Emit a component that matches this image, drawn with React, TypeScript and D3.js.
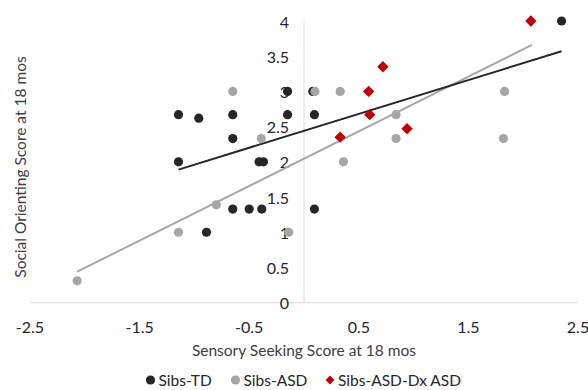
import React, { useRef, useEffect } from "react";
import * as d3 from "d3";

// Sensory seeking (x) vs social orienting (y)
const sibsTD: [number, number][] = [
  [-1.145, 2.0], [-1.145, 2.67], [-0.96, 2.62], [-0.65, 2.67], [-0.65, 2.33],
  [-0.41, 2.0], [-0.37, 2.0], [-0.15, 3.0], [-0.15, 2.67], [0.08, 3.0],
  [0.095, 2.67], [2.35, 4.0], [-0.65, 1.33], [-0.5, 1.33], [-0.385, 1.33],
  [-0.89, 1.0], [0.095, 1.33],
];
const sibsASD: [number, number][] = [
  [-0.65, 3.0], [-0.39, 2.33], [0.1, 3.0], [0.33, 3.0], [1.83, 3.0],
  [0.84, 2.67], [0.84, 2.33], [1.82, 2.33], [0.36, 2.0], [-0.8, 1.39],
  [-1.145, 1.0], [-0.14, 1.0], [-2.07, 0.31],
];
const sibsDx: [number, number][] = [
  [2.07, 4.0], [0.72, 3.35], [0.59, 3.0], [0.6, 2.67], [0.94, 2.47], [0.33, 2.35],
];

// linear trendline end points
const trendTD: [number, number][] = [[-1.145, 1.89], [2.35, 3.57]];
const trendASD: [number, number][] = [[-2.07, 0.44], [2.08, 3.66]];

const xTicks = [-2.5, -1.5, -0.5, 0.5, 1.5, 2.5];
const yTicks = [0, 0.5, 1, 1.5, 2, 2.5, 3, 3.5, 4];

const legendItems = [
  { label: "Sibs-TD", color: "#262626", shape: "circle" },
  { label: "Sibs-ASD", color: "#a6a6a6", shape: "circle" },
  { label: "Sibs-ASD-Dx ASD", color: "#c00000", shape: "diamond" },
];

export default function App() {
  const svgRef = useRef<SVGSVGElement>(null);

  useEffect(() => {
    const width = 588;
    const height = 390;
    const font = "Lato, 'Open Sans', sans-serif";

    const svg = d3.select(svgRef.current).attr("width", width).attr("height", height);
    svg.selectAll("*").remove();

    svg.append("rect").attr("width", width).attr("height", height).attr("fill", "#fff");

    const x = d3.scaleLinear().domain([-2.5, 2.5]).range([30, 578]);
    const y = d3.scaleLinear().domain([0, 4]).range([302.7, 21]);

    // axis lines through origin
    svg.append("line")
      .attr("x1", x(-2.5)).attr("x2", x(2.5))
      .attr("y1", y(0)).attr("y2", y(0))
      .attr("stroke", "#d9d9d9").attr("stroke-width", 1);
    svg.append("line")
      .attr("x1", x(0)).attr("x2", x(0))
      .attr("y1", y(0)).attr("y2", y(4))
      .attr("stroke", "#d9d9d9").attr("stroke-width", 1);

    // tick labels
    svg.append("g")
      .selectAll("text")
      .data(xTicks)
      .enter()
      .append("text")
      .attr("x", (d) => x(d))
      .attr("y", 326)
      .attr("text-anchor", "middle")
      .attr("dominant-baseline", "central")
      .attr("font-family", font)
      .attr("font-size", 16)
      .attr("fill", "#262626")
      .text((d) => String(d));

    svg.append("g")
      .selectAll("text")
      .data(yTicks)
      .enter()
      .append("text")
      .attr("x", x(0) - 15)
      .attr("y", (d) => y(d))
      .attr("text-anchor", "end")
      .attr("dominant-baseline", "central")
      .attr("font-family", font)
      .attr("font-size", 16)
      .attr("fill", "#262626")
      .text((d) => String(d));

    // axis titles
    svg.append("text")
      .attr("x", 304)
      .attr("y", 350)
      .attr("text-anchor", "middle")
      .attr("dominant-baseline", "central")
      .attr("font-family", font)
      .attr("font-size", 15.5)
      .attr("fill", "#404040")
      .text("Sensory Seeking Score at 18 mos");

    svg.append("text")
      .attr("transform", "translate(20,167) rotate(-90)")
      .attr("text-anchor", "middle")
      .attr("dominant-baseline", "central")
      .attr("font-family", font)
      .attr("font-size", 15.5)
      .attr("fill", "#404040")
      .text("Social Orienting Score at 18 mos");

    // trendlines
    const line = d3.line<[number, number]>().x((d) => x(d[0])).y((d) => y(d[1]));
    svg.append("path").attr("d", line(trendASD)).attr("fill", "none")
      .attr("stroke", "#a6a6a6").attr("stroke-width", 2);
    svg.append("path").attr("d", line(trendTD)).attr("fill", "none")
      .attr("stroke", "#262626").attr("stroke-width", 2);

    // points
    const circles = (data: [number, number][], color: string) =>
      svg.append("g")
        .selectAll("circle")
        .data(data)
        .enter()
        .append("circle")
        .attr("cx", (d) => x(d[0]))
        .attr("cy", (d) => y(d[1]))
        .attr("r", 4.6)
        .attr("fill", color);

    circles(sibsTD, "#262626");
    circles(sibsASD, "#a6a6a6");

    const diamond = d3.symbol().type(d3.symbolDiamond2).size(82);
    svg.append("g")
      .selectAll("path")
      .data(sibsDx)
      .enter()
      .append("path")
      .attr("d", diamond)
      .attr("transform", (d) => `translate(${x(d[0])},${y(d[1])})`)
      .attr("fill", "#c00000");

    // legend
    const legendX = [150.5, 235.5, 330];
    const legend = svg.append("g");
    legendItems.forEach((item, i) => {
      const g = legend.append("g").attr("transform", `translate(${legendX[i]},380)`);
      if (item.shape === "circle") {
        g.append("circle").attr("r", 4.6).attr("fill", item.color);
      } else {
        g.append("path").attr("d", d3.symbol().type(d3.symbolDiamond2).size(50)()).attr("fill", item.color);
      }
      g.append("text")
        .attr("x", 8)
        .attr("y", 0)
        .attr("dominant-baseline", "central")
        .attr("font-family", font)
        .attr("font-size", 15.5)
        .attr("fill", "#262626")
        .text(item.label);
    });
  }, []);

  return <svg ref={svgRef} style={{ position: "absolute", left: 0, top: 0 }}></svg>;
}
